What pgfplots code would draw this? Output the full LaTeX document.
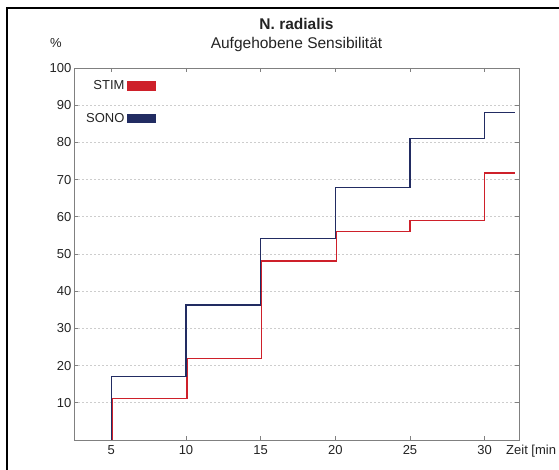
\documentclass[border=0pt]{standalone}
\usepackage{fontspec}
\setmainfont{Liberation Sans}
\usepackage{pgfplots}
\pgfplotsset{compat=1.18}

\definecolor{stimred}{RGB}{206,32,42}
\definecolor{sononavy}{RGB}{34,44,98}
\definecolor{axisgray}{RGB}{128,128,128}
\definecolor{gridgray}{RGB}{205,205,205}
\definecolor{textgray}{RGB}{35,35,35}

\newcommand{\lblfont}{\fontsize{13bp}{15bp}\selectfont}
\newcommand{\ttlfont}{\fontsize{15.5bp}{17bp}\selectfont}

\begin{document}
\begin{tikzpicture}
\useasboundingbox (0,0) rectangle (559bp,470bp);
% outer frame (top and left edges)
\draw[line width=1.5bp] (7bp,0) -- (7bp,462bp) -- (559bp,462bp);

\begin{axis}[
  at={(74bp,30bp)}, anchor=south west,
  scale only axis, width=445bp, height=372bp,
  xmin=2.5, xmax=32.3, ymin=0, ymax=100,
  xtick={5,10,15,20,25,30}, ytick={10,20,...,100},
  tick align=inside, major tick length=4bp,
  axis line style={axisgray, line width=0.9bp},
  every tick/.style={axisgray, line width=0.8bp},
  ymajorgrids,
  grid style={gridgray, line width=0.6bp, dash pattern=on 2bp off 2bp},
  /pgf/number format/assume math mode=true,
  tick label style={font=\lblfont, text=textgray},
  xticklabel style={inner sep=0pt, yshift=-5bp},
  yticklabel style={inner sep=0pt, xshift=-2.5bp},
  legend plot pos=right,
  legend cell align=right,
  legend image code/.code={\fill[#1] (0bp,-4.25bp) rectangle (27bp,4.25bp);},
  legend style={at={(0.184,0.972)}, anchor=north east, draw=none, fill=none,
    inner sep=0pt, row sep=18bp, column sep=1bp, font=\lblfont, text=textgray},
]
\addplot[const plot, stimred, line width=1.2bp] coordinates {
  (5.07,0) (5.07,11.2) (10.07,21.9) (15.07,48.1) (20.07,56.0) (25,59.1) (30,71.8) (32,71.8)
};
\addlegendentry{STIM}
\addplot[const plot, sononavy, line width=1.2bp] coordinates {
  (5,0) (5,17.1) (10,36.3) (15,54.2) (20,67.8) (25,81.0) (30,88.1) (32,88.1)
};
\addlegendentry{SONO}
\end{axis}

% titles and axis captions
\node[font=\bfseries\ttlfont, text=textgray] at (296.5bp,446bp) {N. radialis};
\node[font=\ttlfont, text=textgray] at (296.5bp,426bp) {Aufgehobene Sensibilität};
\node[font=\lblfont, text=textgray, inner sep=0pt] at (56bp,427bp) {\%};
\node[font=\lblfont, text=textgray, inner sep=0pt, anchor=west] at (506bp,19bp) {Zeit [min};
\end{tikzpicture}
\end{document}
